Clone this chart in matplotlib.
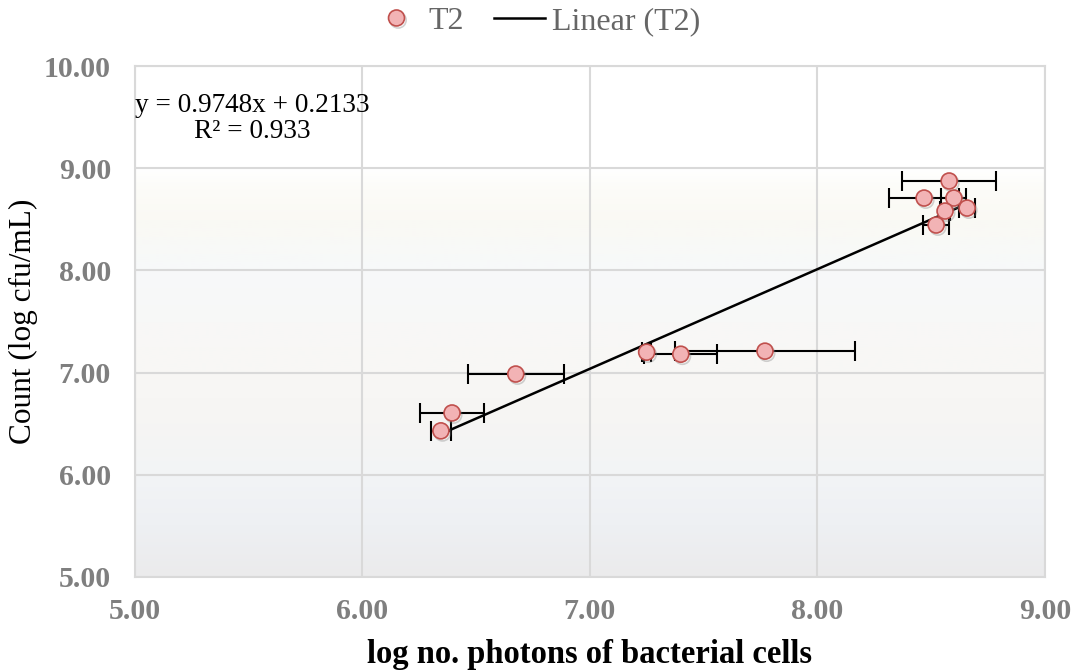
import numpy as np
import matplotlib.pyplot as plt
import matplotlib.patheffects as pe
from matplotlib.colors import LinearSegmentedColormap

# T2 readings: log photons (x) vs log cfu/mL (y), with x error
x = np.array([6.346, 6.395, 6.675, 7.25, 7.40, 7.77, 8.579, 8.469, 8.600, 8.561, 8.658, 8.522])
y = np.array([6.43, 6.605, 6.986, 7.20, 7.18, 7.21, 8.875, 8.708, 8.708, 8.581, 8.61, 8.444])
xerr = np.array([0.045, 0.14, 0.21, 0.02, 0.16, 0.395, 0.206, 0.153, 0.055, 0.02, 0.035, 0.057])

slope = 0.9748
intercept = 0.2133
r2 = 0.933

plt.rcParams['font.family'] = ['Liberation Serif', 'DejaVu Serif']

fig = plt.figure(figsize=(10.71, 6.71), dpi=100)
ax = fig.add_axes([0.1256, 0.1401, 0.8501, 0.7615])

# faint banded background of the plot area
cmap = LinearSegmentedColormap.from_list('bg', [
    (0.0, '#ebebec'), (0.1, '#eef0f3'), (0.2, '#f2f4f6'), (0.3, '#f6f5f3'),
    (0.4, '#f8f7f5'), (0.5, '#f8f8f7'), (0.6, '#f7f9fa'), (0.7, '#faf9f4'),
    (0.76, '#fcfcf8'), (0.8, '#ffffff'), (1.0, '#ffffff')])
grad = np.linspace(0, 1, 256).reshape(-1, 1)
ax.imshow(grad, cmap=cmap, aspect='auto', origin='lower',
          extent=[5, 9, 5, 10], zorder=0)

ax.errorbar(x, y, xerr=xerr, fmt='none', ecolor='black', elinewidth=1.5,
            capsize=7, capthick=1.5, zorder=3)

xs = np.array([x.min(), x.max()])
trend, = ax.plot(xs, slope * xs + intercept, color='black', lw=1.8, zorder=4,
                 label='Linear (T2)')

pts, = ax.plot(x, y, 'o', ms=11.5, mfc='#f2b3b5', mec='#c0504d', mew=1.2,
               zorder=5, label='T2', linestyle='none',
               path_effects=[pe.SimpleLineShadow(offset=(1.2, -1.5), shadow_color='gray', alpha=0.35),
                             pe.Normal()])

ax.set_xlim(5, 9)
ax.set_ylim(5, 10)
ax.set_xticks(np.arange(5, 9.01, 1))
ax.set_yticks(np.arange(5, 10.01, 1))
ax.xaxis.set_major_formatter(plt.FuncFormatter(lambda v, p: f'{v:.2f}'))
ax.yaxis.set_major_formatter(plt.FuncFormatter(lambda v, p: f'{v:.2f}'))
ax.grid(True, color='#d9d9d9', lw=1.5, zorder=1)
ax.set_axisbelow(True)
for s in ax.spines.values():
    s.set_color('#d9d9d9')
    s.set_linewidth(1.5)
ax.tick_params(length=0, labelsize=21.5, labelcolor='#7f7f7f')
ax.tick_params(axis='x', pad=15)
ax.tick_params(axis='y', pad=17)
for lbl in ax.get_xticklabels() + ax.get_yticklabels():
    lbl.set_fontweight('bold')

ax.set_xlabel('log no. photons of bacterial cells', fontsize=23.5, fontweight='bold', labelpad=10)
ax.set_ylabel('Count (log cfu/mL)', fontsize=22.5, labelpad=4)

ax.text(5.516, 9.487, f'y = {slope}x + {intercept}\nR² = {r2}', fontsize=19.6,
        ha='center', va='center', multialignment='center', linespacing=1.05, zorder=6)

leg = fig.legend(handles=[pts, trend], loc='center', bbox_to_anchor=(0.5, 0.968),
                 ncol=2, frameon=False, fontsize=23, handlelength=1.6,
                 columnspacing=0.95, handletextpad=0.2)
for t in leg.get_texts():
    t.set_color('#666666')

fig.savefig('out.png', dpi=100)
